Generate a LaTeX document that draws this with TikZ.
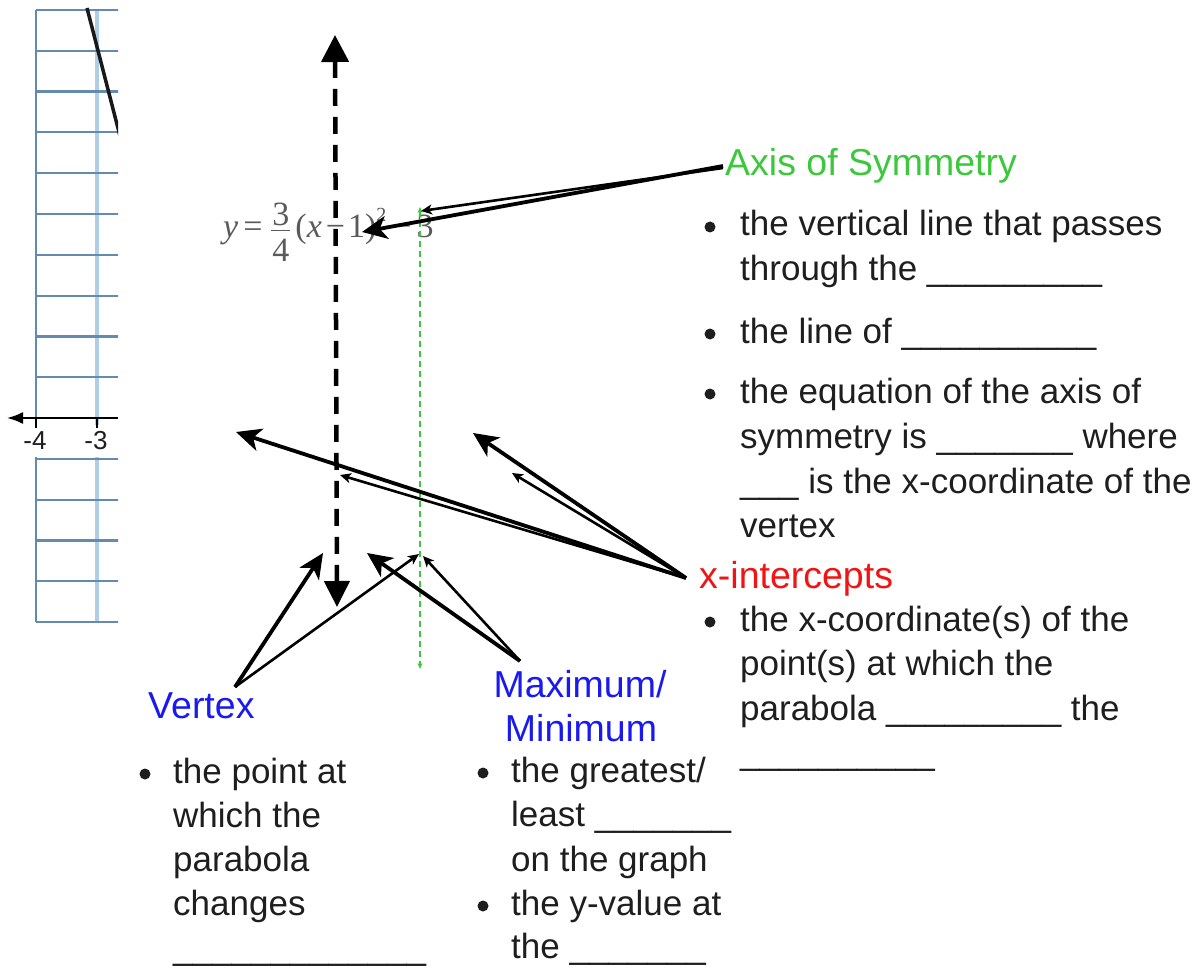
\documentclass[tikz,border=0pt]{standalone}
\usepackage{fontspec}
\setmainfont{Liberation Sans}
\newfontfamily\eqfont{Liberation Serif}
\usetikzlibrary{arrows.meta}
\definecolor{gridblue}{RGB}{100,138,175}
\definecolor{gridlight}{RGB}{175,205,228}
\definecolor{symgreen}{RGB}{60,200,60}
\definecolor{headblue}{RGB}{25,25,240}
\definecolor{headred}{RGB}{240,20,20}
\definecolor{bodytext}{RGB}{30,30,30}
\definecolor{eqgray}{RGB}{90,90,90}
\newcommand\myeqfrac{\raisebox{-24.5pt}{\vbox{\hbox to 19pt{\hss 3\hss}\kern 4pt\hrule height 1.5pt\kern 8pt\hbox to 19pt{\hss 4\hss}}}}
\begin{document}
\begin{tikzpicture}[x=1pt,y=-1pt,
  head/.style={anchor=base west, inner sep=0pt, font=\fontsize{37.5}{44}\selectfont},
  body/.style={anchor=base west, inner sep=0pt, font=\fontsize{35}{44}\selectfont, text=bodytext},
  bulletdot/.style={circle, fill=bodytext, inner sep=0pt, minimum size=11pt},
  bigarrow/.style={line width=3.8pt, -{Stealth[length=25pt,width=23pt,inset=7pt]}},
  smallarrow/.style={line width=2.6pt, -{Stealth[length=11pt,width=10pt,inset=3pt]}},
  gridline/.style={gridblue, line width=2.2pt},
  ticklabel/.style={fill=white, inner sep=1pt, minimum height=32pt, font=\fontsize{26}{27}\selectfont, text=bodytext}]
\useasboundingbox (0,0) rectangle (1201,968);

% ---- grid ----
\begin{scope}
\clip (0,0) rectangle (118,968);
\draw[gridlight, line width=3.5pt] (97,10) -- (97,622);
\foreach \k in {0,...,9,11,12,13,14,15}
  \draw[gridline] (36,{10+40.8*\k}) -- (120,{10+40.8*\k});
\draw[gridline] (36,10) -- (36,622);
\draw[black!90, line width=3.5pt] (87,8) -- (120,136);
\end{scope}
\node[ticklabel] (lm4) at (35,441) {-4};
\node[ticklabel] (lm3) at (96,441) {-3};
\coordinate (axR) at (118,418);
\coordinate (axL) at (7,418);
\draw[line width=2pt, -{Latex[length=16pt,width=12pt]}] (axR) -- (axL);
\draw[line width=2.5pt] (36,418) -- (36,428);
\draw[line width=2.5pt] (97,418) -- (97,428);

% ---- equation ----
\node[anchor=base west, inner sep=0pt, text=eqgray, font=\eqfont\fontsize{34}{38}\selectfont] (eq) at (223,237)
  {\textit{y}\hspace{5pt}=\hspace{9pt}\myeqfrac\hspace{5pt}(\textit{x}\hspace{4pt}−\hspace{3pt}1)\raisebox{15.5pt}{\fontsize{20}{20}\selectfont 2}\hspace{6pt}−\hspace{5pt}3};

% ---- vertical lines ----
\coordinate (gtop) at (420,207);
\coordinate (gbot) at (420,669);
\draw[symgreen, line width=2pt, dash pattern=on 6pt off 4pt, {Stealth[length=6pt,width=5pt]}-{Stealth[length=6pt,width=5pt]}] (gtop) -- (gbot);
\coordinate (dtop) at (335,35);
\coordinate (dbot) at (337,607);
\draw[line width=4.5pt, dash pattern=on 17pt off 11pt, {Triangle[length=27pt,width=27pt]}-{Triangle[length=26pt,width=25pt]}] (dtop) -- (dbot);

% ---- headings ----
\node[head, text=symgreen] (axis) at (725,176) {Axis of Symmetry};
\node[head, text=headred] (xint) at (699,588) {x-intercepts};
\node[head, text=headblue] (vert) at (148,718) {Vertex};
\node[head, anchor=base, text=headblue] (maxa) at (580,697) {Maximum/};
\node[head, anchor=base, text=headblue] (maxb) at (581,741) {Minimum};

% ---- arrow anchors ----
\coordinate (axisA) at (723,166);
\coordinate (axisB) at (723,168);
\coordinate (tEq) at (362,232);
\coordinate (tGreenTop) at (421,211);
\coordinate (xintO) at (686,578);
\coordinate (tXL) at (236,432);
\coordinate (tXLs) at (340,475);
\coordinate (tXR) at (473,433);
\coordinate (tXRs) at (512,473);
\coordinate (vertO) at (235,687);
\coordinate (tV) at (323,553);
\coordinate (tVs) at (419,554);
\coordinate (maxO) at (520,661);
\coordinate (tM) at (367,553);
\coordinate (tMs) at (423,556);

\draw[bigarrow] (axisA) -- (tEq);
\draw[smallarrow] (axisB) -- (tGreenTop);
\draw[bigarrow] (xintO) -- (tXL);
\draw[smallarrow] (xintO) -- (tXLs);
\draw[bigarrow] (xintO) -- (tXR);
\draw[smallarrow] (xintO) -- (tXRs);
\draw[bigarrow] (vertO) -- (tV);
\draw[smallarrow] (vertO) -- (tVs);
\draw[bigarrow] (maxO) -- (tM);
\draw[smallarrow] (maxO) -- (tMs);

% ---- Axis of symmetry text ----
\node[bulletdot] (ab1) at (710,227) {};
\node[body] (a1) at (740,236) {the vertical line that passes};
\node[body] (a2) at (740,280) {through the \_\_\_\_\_\_\_\_\_};
\node[bulletdot] (ab2) at (710,334) {};
\node[body] (a3) at (740,343) {the line of \_\_\_\_\_\_\_\_\_\_};
\node[bulletdot] (ab3) at (710,394) {};
\node[body] (a4) at (740,403) {the equation of the axis of};
\node[body] (a5) at (740,448) {symmetry is \_\_\_\_\_\_\_ where};
\node[body] (a6) at (740,493) {\_\_\_ is the x-coordinate of the};
\node[body] (a7) at (740,537) {vertex};

% ---- x-intercepts text ----
\node[bulletdot] (xb1) at (710,622) {};
\node[body] (x1) at (740,631) {the x-coordinate(s) of the};
\node[body] (x2) at (740,675) {point(s) at which the};
\node[body] (x3) at (740,720) {parabola \_\_\_\_\_\_\_\_\_ the};
\node[body] (x4) at (740,764) {\_\_\_\_\_\_\_\_\_\_};

% ---- Vertex text ----
\node[bulletdot] (vb1) at (145,774) {};
\node[body] (v1) at (173,783) {the point at};
\node[body] (v2) at (173,827) {which the};
\node[body] (v3) at (173,871) {parabola};
\node[body] (v4) at (173,915) {changes};
\node[body] (v5) at (173,959) {\_\_\_\_\_\_\_\_\_\_\_\_\_};

% ---- Max/Min text ----
\node[bulletdot] (mb1) at (483,773) {};
\node[body] (m1) at (511,782) {the greatest/};
\node[body] (m2) at (511,826) {least \_\_\_\_\_\_\_};
\node[body] (m3) at (511,871) {on the graph};
\node[bulletdot] (mb2) at (483,906) {};
\node[body] (m4) at (511,915) {the y-value at};
\node[body] (m5) at (511,958) {the \_\_\_\_\_\_\_};
\end{tikzpicture}
\end{document}
